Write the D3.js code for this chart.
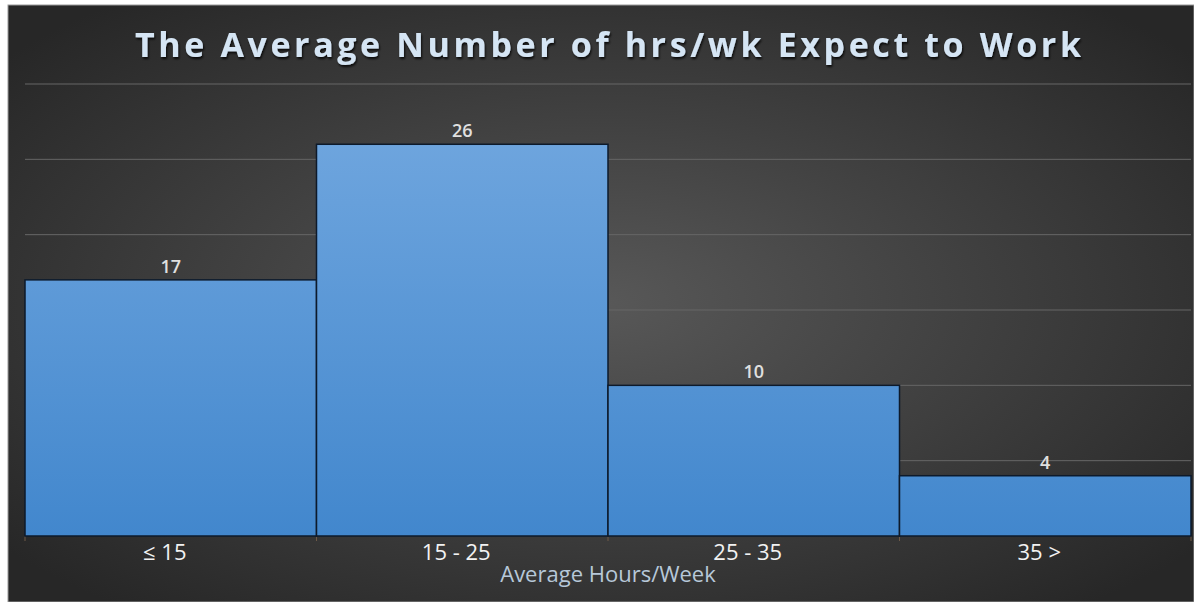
<!DOCTYPE html>
<html>
<head>
<meta charset="utf-8">
<title>Hours per week</title>
<style>
  body { margin: 0; background: #fff; }
  svg text { font-family: "Open Sans", sans-serif; }
</style>
</head>
<body>
<svg width="1194" height="602"></svg>
<script src="https://d3js.org/d3.v7.min.js"></script>
<script>
var categories = ["≤ 15", "15 - 25", "25 - 35", "35 >"];
var counts = [17, 26, 10, 4];
var gridValues = [5, 10, 15, 20, 25, 30];

var svg = d3.select("svg"),
    width = +svg.attr("width"),
    height = +svg.attr("height");

var margin = {left: 25, right: 3, top: 84, bottom: 66};
var x0 = margin.left, x1 = width - margin.right;
var y0 = height - margin.bottom, y1 = margin.top;

var defs = svg.append("defs");

var bg = defs.append("radialGradient")
    .attr("id", "bg").attr("cx", "50%").attr("cy", "50%").attr("r", "65%");
bg.append("stop").attr("offset", "0%").attr("stop-color", "#585858");
bg.append("stop").attr("offset", "100%").attr("stop-color", "#272727");

var barFill = defs.append("linearGradient")
    .attr("id", "barFill").attr("gradientUnits", "userSpaceOnUse")
    .attr("x1", 0).attr("x2", 0).attr("y1", y1).attr("y2", y0);
barFill.append("stop").attr("offset", "0%").attr("stop-color", "#74a9e0");
barFill.append("stop").attr("offset", "100%").attr("stop-color", "#4287cd");

var shadow = defs.append("filter").attr("id", "shadow")
    .attr("x", "-5%").attr("y", "-20%").attr("width", "110%").attr("height", "150%");
shadow.append("feDropShadow").attr("dx", 1).attr("dy", 2).attr("stdDeviation", 1.2)
    .attr("flood-color", "#000").attr("flood-opacity", 0.8);

// chart background
svg.append("rect")
    .attr("x", 8).attr("y", 5)
    .attr("width", width - 8).attr("height", height - 5)
    .attr("fill", "url(#bg)")
    .attr("stroke", "#9a9a9a").attr("stroke-width", 1);

var x = d3.scaleBand().domain(categories).range([x0, x1]).padding(0);
var y = d3.scaleLinear().domain([0, 30]).range([y0, y1]);

// gridlines
svg.append("g").selectAll("line")
    .data(gridValues)
    .enter().append("line")
    .attr("x1", x0).attr("x2", x1)
    .attr("y1", function(d) { return y(d); })
    .attr("y2", function(d) { return y(d); })
    .attr("stroke", "#666").attr("stroke-width", 1);

// small ticks at bin edges
svg.append("g").selectAll("line")
    .data(categories.concat(["end"]))
    .enter().append("line")
    .attr("x1", function(d, i) { return i < categories.length ? x(d) : x1; })
    .attr("x2", function(d, i) { return i < categories.length ? x(d) : x1; })
    .attr("y1", y0).attr("y2", y0 + 5)
    .attr("stroke", "#6e5a48").attr("stroke-width", 1);

// bars
svg.append("g").selectAll("rect")
    .data(counts)
    .enter().append("rect")
    .attr("x", function(d, i) { return x(categories[i]); })
    .attr("y", function(d) { return y(d); })
    .attr("width", x.bandwidth())
    .attr("height", function(d) { return y(0) - y(d); })
    .attr("fill", "url(#barFill)")
    .attr("stroke", "#0d1a2b").attr("stroke-width", 1.5);

// data labels
svg.append("g").selectAll("text")
    .data(counts)
    .enter().append("text")
    .attr("x", function(d, i) { return x(categories[i]) + x.bandwidth() / 2; })
    .attr("y", function(d) { return y(d) - 7; })
    .attr("text-anchor", "middle")
    .attr("font-size", 18)
    .attr("font-weight", 600)
    .attr("fill", "#e0e0e0")
    .text(function(d) { return d; });

// category labels
svg.append("g").selectAll("text")
    .data(categories)
    .enter().append("text")
    .attr("x", function(d) { return x(d) + x.bandwidth() / 2 - 6; })
    .attr("y", y0 + 24)
    .attr("text-anchor", "middle")
    .attr("font-size", 22)
    .attr("fill", "#f2f2f2")
    .text(function(d) { return d; });

// axis title
svg.append("text")
    .attr("x", (x0 + x1) / 2)
    .attr("y", y0 + 46)
    .attr("text-anchor", "middle")
    .attr("font-size", 22)
    .attr("fill", "#b7c8d9")
    .text("Average Hours/Week");

// chart title
svg.append("text")
    .attr("x", 608)
    .attr("y", 57)
    .attr("text-anchor", "middle")
    .attr("font-size", 34)
    .attr("font-weight", 700)
    .attr("fill", "#d5e5f4")
    .attr("textLength", 946)
    .attr("lengthAdjust", "spacing")
    .attr("filter", "url(#shadow)")
    .text("The Average Number of hrs/wk Expect to Work");
</script>
</body>
</html>
